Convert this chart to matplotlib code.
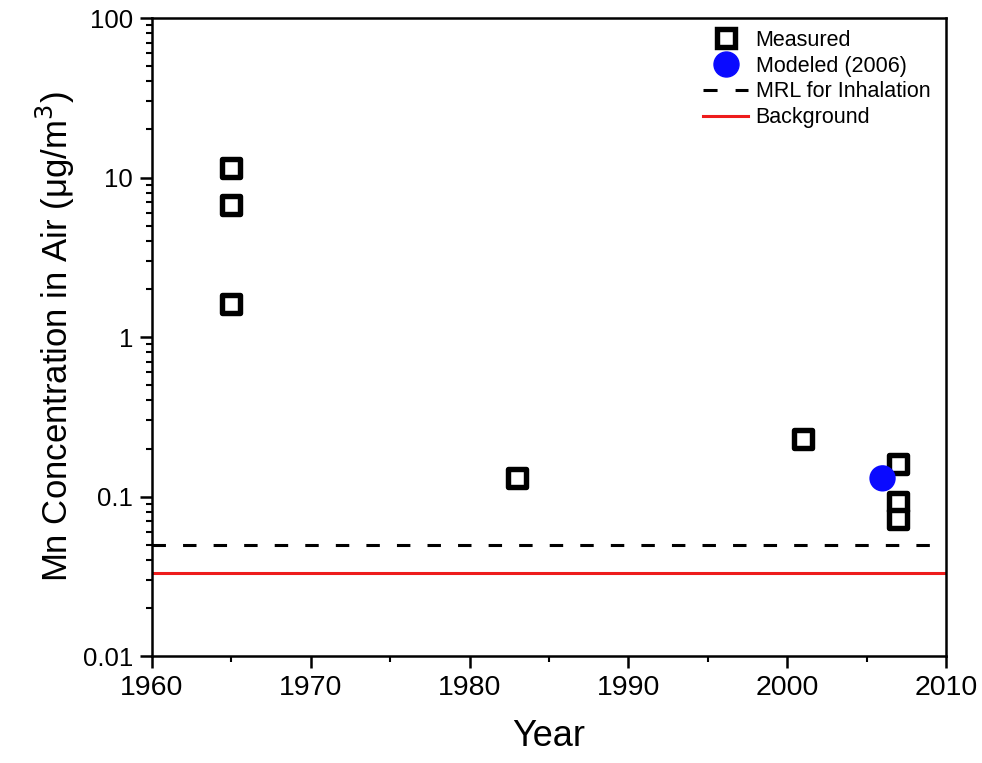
import matplotlib
matplotlib.use("Agg")
import matplotlib.pyplot as plt
from matplotlib.lines import Line2D
from matplotlib.ticker import LogLocator, FixedLocator, NullFormatter

plt.rcParams['font.family'] = ['Liberation Sans', 'DejaVu Sans']

# Measured manganese concentrations in air
measured_year = [1965, 1965, 1965, 1983, 2001, 2007, 2007, 2007]
measured_conc = [11.5, 6.7, 1.6, 0.13, 0.23, 0.16, 0.092, 0.072]

# Modeled concentration
modeled_year = [2006]
modeled_conc = [0.13]

# Reference levels
mrl_inhalation = 0.05
background = 0.033

x_ticks = [1960, 1970, 1980, 1990, 2000, 2010]
x_minor = [1965, 1975, 1985, 1995, 2005]
y_ticks = [0.01, 0.1, 1, 10, 100]
y_tick_labels = ["0.01", "0.1", "1", "10", "100"]

fig = plt.figure(figsize=(9.82, 7.63), dpi=100)
ax = fig.add_axes([0.1548, 0.1402, 0.8086, 0.8362])

ax.set_yscale('log')
ax.set_xlim(1960, 2010)
ax.set_ylim(0.01, 100)

ax.axhline(mrl_inhalation, color='black', lw=2.2, dashes=(4.4, 5.6), zorder=2)
ax.axhline(background, color='#ee1c1c', lw=2.2, zorder=2)

ax.scatter(measured_year, measured_conc, marker='s', s=160, facecolors='white',
           edgecolors='black', linewidths=3.9, zorder=3)
ax.scatter(modeled_year, modeled_conc, marker='o', s=360, color='#0a0aff',
           edgecolors='none', zorder=4)

ax.xaxis.set_major_locator(FixedLocator(x_ticks))
ax.xaxis.set_minor_locator(FixedLocator(x_minor))
ax.set_xticklabels([str(t) for t in x_ticks], fontsize=20.5)
ax.yaxis.set_major_locator(FixedLocator(y_ticks))
ax.set_yticklabels(y_tick_labels, fontsize=18.5)
ax.yaxis.set_minor_locator(LogLocator(base=10, subs=range(2, 10)))
ax.yaxis.set_minor_formatter(NullFormatter())

ax.tick_params(which='major', direction='out', length=8.6, width=1.8)
ax.tick_params(which='minor', direction='out', length=4.5, width=1.5)
ax.tick_params(axis='x', which='major', pad=5)
ax.tick_params(axis='y', which='major', pad=5)
for s in ax.spines.values():
    s.set_linewidth(1.8)

ax.set_xlabel('Year', fontsize=26, labelpad=13)
ax.set_ylabel('Mn Concentration in Air (\u03bcg/m$^3$)', fontsize=25, labelpad=4)

handles = [
    Line2D([], [], marker='s', ls='none', markersize=12.5, markerfacecolor='white',
           markeredgecolor='black', markeredgewidth=3.9),
    Line2D([], [], marker='o', ls='none', markersize=18, color='#0a0aff'),
    Line2D([], [], color='black', lw=2.2, dashes=(4.6, 5.9)),
    Line2D([], [], color='#ee1c1c', lw=2.2),
]
labels = ['Measured', 'Modeled (2006)', 'MRL for Inhalation', 'Background']
fig.legend(handles, labels, loc='upper left', frameon=False, fontsize=15.5,
           handlelength=2.1, handletextpad=0.35, labelspacing=0.22,
           borderpad=0, borderaxespad=0,
           bbox_to_anchor=(703 / 982, 1 - 30 / 763))

fig.savefig('out.png', dpi=100)
